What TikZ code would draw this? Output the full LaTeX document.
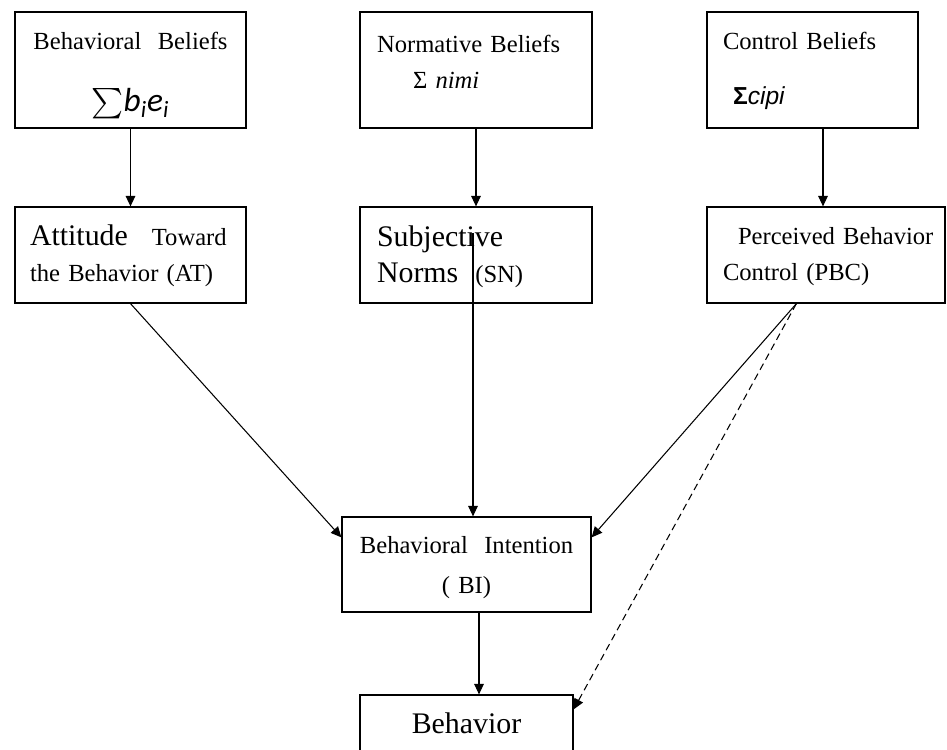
\documentclass[tikz,border=0pt]{standalone}
\usepackage{amsmath}
\usepackage{fontspec}
\setmainfont{Liberation Serif}
\newfontfamily\calfont{Carlito}
\newfontfamily\arialfont{Liberation Sans}
\usetikzlibrary{arrows.meta}
\begin{document}
\begin{tikzpicture}
      \useasboundingbox (0,0) rectangle (18.94,14.98);
      \clip (0,0) rectangle (18.94,14.98);
      \begin{scope}[every node/.style={draw,line width=0.7pt,inner sep=0pt,font=\fontsize{14}{20}\selectfont}]
      \node[text width=4.62cm,align=center,text height=0.76cm,text depth=1.56cm] (bb) at (2.61,13.58)
        {Behavioral\ \ Beliefs\\[15pt]{\fontsize{17}{18}\selectfont$\sum$}{\calfont\itshape\fontsize{19}{20}\selectfont b\textsubscript{i}e\textsubscript{i}}\hspace*{0.7cm}};
      \node[text width=4.64cm,align=left,text height=0.82cm,text depth=1.50cm] (nb) at (9.52,13.58)
        {\hspace*{0.34cm}Normative Beliefs\\\hspace*{1.06cm}Σ \textit{nimi}};
      \node[text width=4.22cm,align=left,text height=0.76cm,text depth=1.56cm] (cb) at (16.25,13.58)
        {\hspace*{0.32cm}Control Beliefs\\[11pt]\hspace*{0.52cm}{\arialfont\bfseries Σ}{\arialfont\itshape cipi}};
      \node[text width=4.62cm,align=left,text height=0.78cm,text depth=1.14cm] (at) at (2.61,9.88)
        {\hspace*{0.30cm}{\fontsize{17}{20}\selectfont Attitude}\hspace{0.48cm}Toward\\\hspace*{0.30cm}the Behavior (AT)};
      \node[text width=4.64cm,align=left,text height=0.80cm,text depth=1.12cm] (sn) at (9.52,9.88)
        {\hspace*{0.34cm}{\fontsize{17}{20}\selectfont Subjective}\\\hspace*{0.34cm}{\fontsize{17}{20}\selectfont Norms}\hspace{0.34cm}(SN)};
      \node[text width=4.76cm,align=left,text height=0.76cm,text depth=1.16cm] (pbc) at (16.52,9.88)
        {\hspace*{0.62cm}Perceived Behavior\\\hspace*{0.32cm}Control (PBC)};
      \node[text width=4.98cm,align=center,text height=0.72cm,text depth=1.18cm] (bi) at (9.33,3.69)
        {Behavioral\ \ Intention\\[3pt]( BI)\hspace*{0.3cm}};
      \node[text width=4.26cm,align=center,text height=0.76cm,text depth=0.9cm] (beh) at (9.33,0.25)
        {\fontsize{17}{20}\selectfont Behavior};
      \end{scope}
      \coordinate (snin) at (9.46,10.32);
      \coordinate (pbcout) at ([xshift=1.80cm]pbc.south west);
      \begin{scope}[every edge/.style={draw=black,line width=0.6pt,-{Triangle[length=6pt,width=5.5pt]}}]
      \path (bb) edge (at);
      \path (nb) edge (sn);
      \path ([xshift=0.21cm]cb.south) edge ([xshift=0.21cm]cb.south |- pbc.north);
      \path (at.south) edge ([yshift=-0.42cm]bi.north west);
      \path (snin) edge (snin |- bi.north);
      \path (pbcout) edge ([yshift=-0.42cm]bi.north east);
      \path ([xshift=0.25cm]bi.south) edge ([xshift=0.25cm]bi.south |- beh.north);
      \path (pbcout) edge[dash pattern=on 4pt off 2.5pt] ([yshift=-0.30cm]beh.north east);
      \end{scope}
\end{tikzpicture}
\end{document}
